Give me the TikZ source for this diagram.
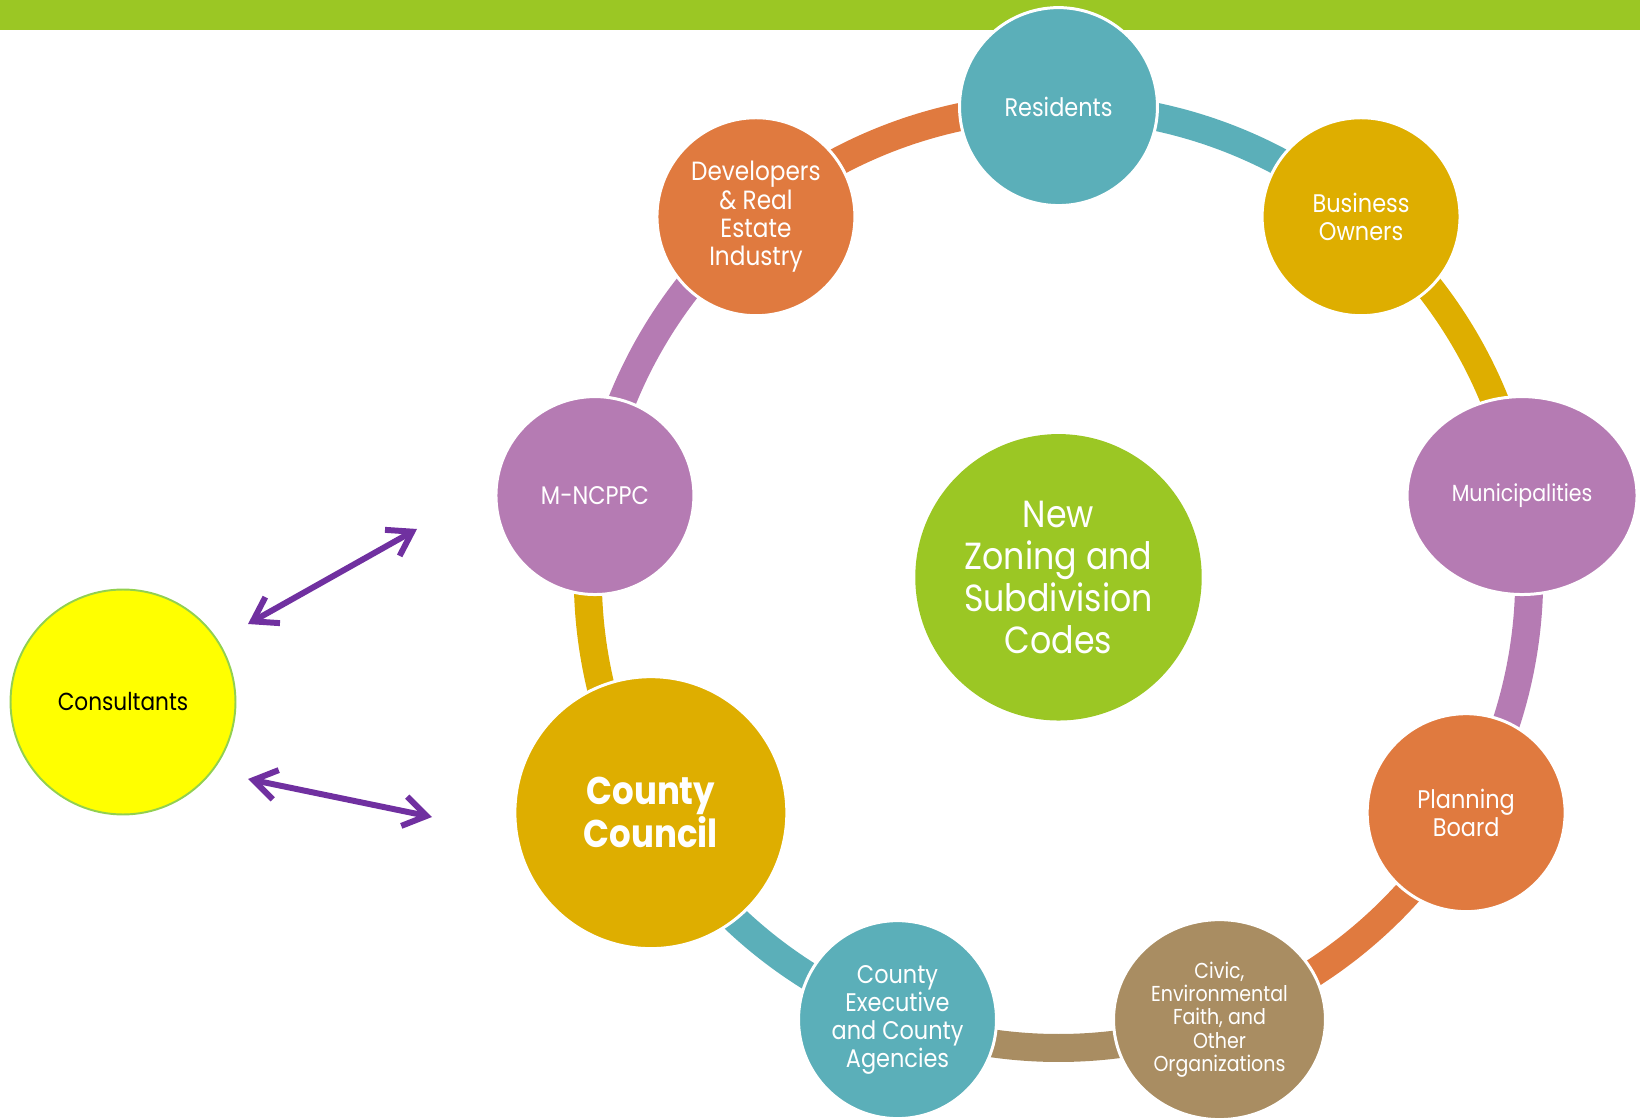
\documentclass[tikz,border=0pt]{standalone}
\usepackage{fontspec}
\setmainfont{Poppins}[FakeStretch=0.88]
\usetikzlibrary{arrows.meta,backgrounds,calc,shapes.geometric}

\definecolor{barGreen}{RGB}{155,199,36}
\definecolor{ringTeal}{RGB}{91,175,185}
\definecolor{ringOrange}{RGB}{224,122,63}
\definecolor{ringGold}{RGB}{222,174,0}
\definecolor{ringPurple}{RGB}{181,123,179}
\definecolor{ringBrown}{RGB}{169,141,98}
\definecolor{consYellow}{RGB}{255,255,0}
\definecolor{consEdge}{RGB}{146,208,80}
\definecolor{arrowPurple}{RGB}{112,48,160}

\tikzset{
  bub/.style={circle,draw=white,line width=1.7pt,text=white,align=center,
    inner sep=0pt,minimum size=3.96cm,font=\fontsize{14.5}{16}\selectfont},
  oval/.style={bub,ellipse},
  link/.style={draw=#1,line width=0.56cm},
  twoway/.style={draw=arrowPurple,line width=3.4pt,line cap=round,
    {Straight Barb[length=13pt,width=17pt]}-{Straight Barb[length=13pt,width=17pt]}}
}

\begin{document}
\begin{tikzpicture}[x=0.02cm,y=0.02cm]
  \useasboundingbox (0,0) rectangle (1640,1117);
  % green band along the top
  \fill[barGreen] (0,1087) rectangle (1640,1117);

  \coordinate (mid) at (1058.5,539.7);

  % centre of the ring
  \node[bub,draw=none,fill=barGreen,minimum size=5.73cm,
    font=\fontsize{21.5}{24}\selectfont] (codes) at (mid)
    {New\\Zoning and\\Subdivision\\Codes};

  % stakeholders round the ring
  \node[bub,fill=ringTeal] (res) at ($(mid)+(90:470.7)$) {Residents};
  \node[bub,fill=ringGold] (biz) at ($(mid)+(50:470.7)$) {Business\\Owners};
  \node[oval,fill=ringPurple,minimum width=4.6cm,minimum height=3.96cm,
    font=\fontsize{13.3}{15}\selectfont] (muni)
    at ($(mid)+(10:470.7)$) {Municipalities};
  \node[bub,fill=ringOrange] (board) at ($(mid)+(-30:470.7)$) {Planning\\Board};
  \node[oval,fill=ringBrown,minimum width=4.24cm,minimum height=4.0cm,
    font=\fontsize{12.3}{13.3}\selectfont] (civic) at ($(mid)+(-70:470.7)$)
    {Civic,\\Environmental\\Faith, and\\Other\\Organizations};
  \node[bub,fill=ringTeal] (exec) at ($(mid)+(-110:470.7)$)
    {County\\Executive\\and County\\Agencies};
  \node[bub,fill=ringGold,minimum size=5.44cm,
    font=\fontsize{22}{23}\selectfont\bfseries] (council)
    at ($(mid)+(-150:470.7)$) {County\\Council};
  \node[bub,fill=ringPurple] (mncppc) at ($(mid)+(170:470.7)$) {M-NCPPC};
  \node[bub,fill=ringOrange,font=\fontsize{15}{16}\selectfont] (dev)
    at ($(mid)+(130:470.7)$) {Developers\\\& Real\\Estate\\Industry};

  % ring segments, behind the circles
  \begin{pgfonlayer}{background}
    \draw[link=ringTeal] (res.center) arc[start angle=90,end angle=50,radius=9.414cm];
    \draw[link=ringGold] (biz.center) arc[start angle=50,end angle=10,radius=9.414cm];
    \draw[link=ringPurple] (muni.center) arc[start angle=10,end angle=-30,radius=9.414cm];
    \draw[link=ringOrange] (board.center) arc[start angle=-30,end angle=-70,radius=9.414cm];
    \draw[link=ringBrown] (civic.center) arc[start angle=-70,end angle=-110,radius=9.414cm];
    \draw[link=ringTeal] (exec.center) arc[start angle=-110,end angle=-150,radius=9.414cm];
    \draw[link=ringGold] (council.center) arc[start angle=-150,end angle=-190,radius=9.414cm];
    \draw[link=ringPurple] (mncppc.center) arc[start angle=170,end angle=130,radius=9.414cm];
    \draw[link=ringOrange] (dev.center) arc[start angle=130,end angle=90,radius=9.414cm];
  \end{pgfonlayer}

  % consultants and their two-way links
  \node[circle,draw=consEdge,line width=1.1pt,fill=consYellow,minimum size=4.5cm,
    inner sep=0pt,font=\fontsize{14}{16}\selectfont] (cons) at (123,415) {Consultants};
  \coordinate (upL) at (248,493);
  \coordinate (upR) at (417,588);
  \coordinate (lowL) at (248,338);
  \coordinate (lowR) at (432,300);
  \draw[twoway] (upL) -- (upR);
  \draw[twoway] (lowL) -- (lowR);
\end{tikzpicture}
\end{document}
